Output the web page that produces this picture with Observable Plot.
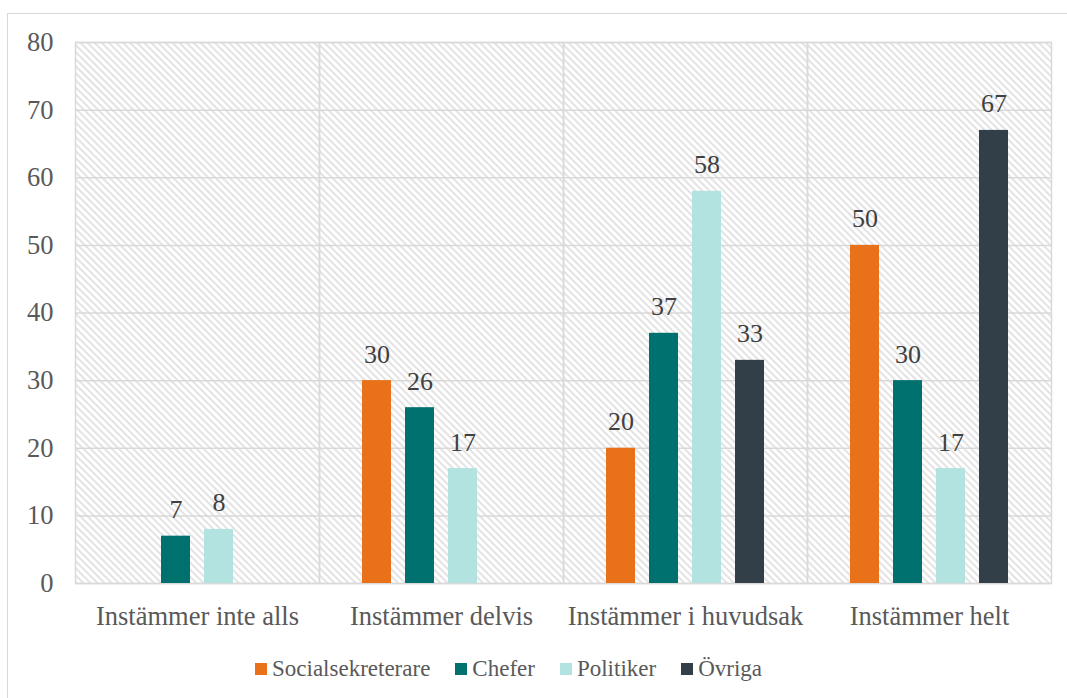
<!DOCTYPE html>
<html>
<head>
<meta charset="utf-8">
<script src="https://cdn.jsdelivr.net/npm/d3@7"></script>
<script src="https://cdn.jsdelivr.net/npm/@observablehq/plot@0.6"></script>
<style>
  html, body { margin: 0; padding: 0; background: #fff; }
  #wrap { position: relative; width: 1067px; height: 698px; overflow: hidden; font-family: 'Liberation Serif', 'Times New Roman', serif; }
  #border { position: absolute; left: 7px; top: 13px; width: 1100px; height: 720px; border: 1.5px solid #d9d9d9; box-sizing: border-box; }
  #chart { position: absolute; left: 0; top: 0; }
  #legend { position: absolute; left: 255px; top: 656px; display: flex; align-items: center; font-size: 23px; color: #595959; white-space: nowrap; }
  #legend .item { display: flex; align-items: center; margin-right: 25px; }
  #legend .sw { width: 12px; height: 12px; margin-right: 5px; }
  #chart svg, #chart svg text, #legend { font-family: 'Liberation Serif', 'Times New Roman', serif !important; }
</style>
</head>
<body>
<div id="wrap">
  <div id="border"></div>
  <div id="chart"></div>
  <div id="legend"></div>
</div>
<script>
const categories = ["Instämmer inte alls", "Instämmer delvis", "Instämmer i huvudsak", "Instämmer helt"];
const series = ["Socialsekreterare", "Chefer", "Politiker", "Övriga"];
const socialsekreterare = [0, 30, 20, 50];
const chefer = [7, 26, 37, 30];
const politiker = [8, 17, 58, 17];
const ovriga = [0, 0, 33, 67];
const colors = ["#E8711A", "#00716F", "#B3E3E1", "#323E48"];
const yTicks = [0, 10, 20, 30, 40, 50, 60, 70, 80];

const valuesBySeries = [socialsekreterare, chefer, politiker, ovriga];
const data = [];
categories.forEach((c, i) => {
  series.forEach((s, j) => {
    data.push({category: c, series: s, value: valuesBySeries[j][i]});
  });
});
const shown = data.filter(d => d.value > 0);

const chart = Plot.plot({
  width: 1067,
  height: 640,
  marginLeft: 74,
  marginRight: 15,
  marginTop: 42,
  marginBottom: 57,
  style: {fontSize: "26.5px", color: "#595959", background: "transparent"},
  fx: {domain: categories, padding: 0, axis: "bottom", label: null, tickSize: 0, tickPadding: 23},
  x: {domain: series, axis: null, paddingInner: 0.318, paddingOuter: 0.9375},
  y: {domain: [0, 80], ticks: yTicks, tickSize: 0, tickPadding: 22, label: null, tickFormat: d => d},
  color: {domain: series, range: colors},
  marks: [
    Plot.frame({fill: "url(#hatch)", stroke: null}),
    Plot.gridY(yTicks, {stroke: "#d9d9d9", strokeOpacity: 1, strokeWidth: 1.5}),
    Plot.frame({stroke: "#d9d9d9", strokeWidth: 1.5}),
    Plot.barY(shown, {fx: "category", x: "series", y: "value", fill: "series"}),
    Plot.text(shown, {fx: "category", x: "series", y: "value", text: d => String(d.value), lineAnchor: "bottom", dy: -18, fill: "#404040", fontSize: 26})
  ]
});

const svg = d3.select(chart);
const defs = svg.insert("defs", ":first-child");
const pat = defs.append("pattern")
  .attr("id", "hatch")
  .attr("patternUnits", "userSpaceOnUse")
  .attr("width", 5)
  .attr("height", 5)
  .attr("patternTransform", "rotate(-45)");
pat.append("rect").attr("width", 5).attr("height", 5).attr("fill", "#ffffff");
pat.append("line").attr("x1", 1).attr("y1", 0).attr("x2", 1).attr("y2", 5)
  .attr("stroke", "#dcdcdc").attr("stroke-width", 1.6);

document.getElementById("chart").appendChild(chart);

const legend = d3.select("#legend");
series.forEach((s, i) => {
  const item = legend.append("div").attr("class", "item");
  item.append("div").attr("class", "sw").style("background", colors[i]);
  item.append("span").text(s);
});
</script>
</body>
</html>
